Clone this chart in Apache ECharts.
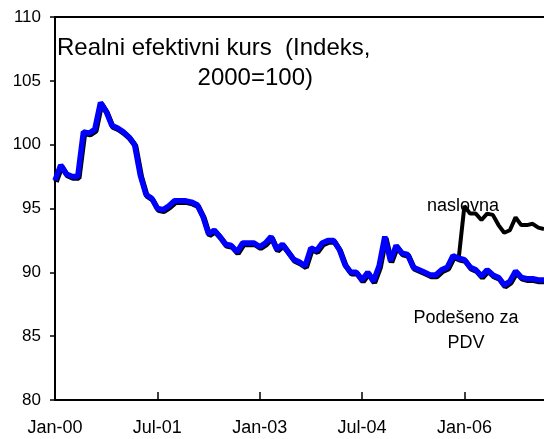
<!DOCTYPE html>
<html>
<head>
<meta charset="utf-8">
<script src="https://cdn.jsdelivr.net/npm/echarts@6/dist/echarts.min.js"></script>
<style>
  html, body { margin: 0; padding: 0; background: #fff; }
  #main { width: 544px; height: 439px; }
</style>
</head>
<body>
<div id="main"></div>
<script>
// mjeseci Jan-00 .. Mar-07
const monthNames = ['Jan', 'Feb', 'Mar', 'Apr', 'May', 'Jun', 'Jul', 'Aug', 'Sep', 'Oct', 'Nov', 'Dec'];
const months = [];
for (let i = 0; i < 87; i++) {
  let y = i / 12 | 0;
  months.push(monthNames[i % 12] + '-' + (y < 10 ? '0' + y : '' + y));
}

// Podešeno za PDV (plava)
const podeseno = [
  97.2, 98.4, 97.7, 97.5, 97.5, 101.0, 100.9, 101.2, 103.3, 102.6, 101.5, 101.3,
  101.0, 100.6, 100.0, 97.6, 96.1, 95.8, 95.0, 94.9, 95.2, 95.6, 95.6, 95.6,
  95.5, 95.3, 94.4, 93.0, 93.3, 92.8, 92.2, 92.1, 91.6, 92.3, 92.3, 92.3,
  92.0, 92.3, 92.8, 91.8, 92.2, 91.6, 91.0, 90.8, 90.5, 91.9, 91.7, 92.3,
  92.5, 92.5, 91.8, 90.6, 90.0, 90.0, 89.4, 90.0, 89.3, 90.5, 92.8, 90.9,
  92.1, 91.5, 91.4, 90.4, 90.2, 90.0, 89.8, 89.8, 90.2, 90.4, 91.3, 91.1,
  91.0, 90.4, 90.2, 89.7, 90.2, 89.8, 89.6, 89.0, 89.3, 90.1, 89.6, 89.5,
  89.5, 89.4, 89.4
];

// naslovna (crna), odvaja se od Dec-05
const naslovna = [
  null, null, null, null, null, null, null, null, null, null, null, null,
  null, null, null, null, null, null, null, null, null, null, null, null,
  null, null, null, null, null, null, null, null, null, null, null, null,
  null, null, null, null, null, null, null, null, null, null, null, null,
  null, null, null, null, null, null, null, null, null, null, null, null,
  null, null, null, null, null, null, null, null, null, null, null, 91.1,
  95.2, 94.6, 94.6, 94.1, 94.6, 94.5, 93.7, 93.1, 93.3, 94.3, 93.7, 93.7,
  93.8, 93.5, 93.4
];

const fontFam = '"Liberation Sans", Arial, sans-serif';

var chart = echarts.init(document.getElementById('main'));

var option = {
  animation: false,
  backgroundColor: '#fff',
  grid: {
    left: 55,
    right: 0,
    top: 17,
    bottom: 39
  },
  xAxis: [{
    type: 'category',
    data: months,
    boundaryGap: false,
    axisLine: { lineStyle: { color: '#000', width: 2 } },
    axisTick: { inside: true, length: 8, interval: 17, lineStyle: { color: '#000', width: 1.5 } },
    axisLabel: { interval: 17, margin: 19, color: '#000', fontSize: 18, fontFamily: fontFam },
    splitLine: { show: false }
  }, {
    type: 'category',
    data: months,
    position: 'top',
    boundaryGap: false,
    axisLine: { lineStyle: { color: '#000', width: 2 } },
    axisTick: { show: false },
    axisLabel: { show: false }
  }],
  yAxis: {
    type: 'value',
    min: 80,
    max: 110,
    interval: 5,
    axisLine: { show: true, lineStyle: { color: '#000', width: 2 } },
    axisTick: { show: true, length: 5, lineStyle: { color: '#000', width: 1.5 } },
    axisLabel: { margin: 14, color: '#000', fontSize: 17, fontFamily: fontFam },
    splitLine: { show: false }
  },
  series: [{
    name: 'naslovna',
    type: 'line',
    data: naslovna,
    symbol: 'none',
    z: 2,
    lineStyle: { color: '#000', width: 4 }
  }, {
    name: 'Podešeno za PDV',
    type: 'line',
    data: podeseno,
    symbol: 'none',
    z: 3,
    lineStyle: {
      color: '#0000ff',
      width: 5.5,
      shadowColor: '#000',
      shadowBlur: 0,
      shadowOffsetX: 1,
      shadowOffsetY: 1.5
    }
  }],
  graphic: [{
    type: 'text',
    x: 57,
    y: 48,
    style: { text: 'Realni efektivni kurs  (Indeks,', fill: '#000', font: '24px ' + fontFam, verticalAlign: 'middle' }
  }, {
    type: 'text',
    x: 313,
    y: 78,
    style: { text: '2000=100)', fill: '#000', font: '24px ' + fontFam, align: 'right', verticalAlign: 'middle' }
  }, {
    type: 'text',
    x: 463,
    y: 206,
    style: { text: 'naslovna', fill: '#000', font: '18px ' + fontFam, align: 'center', verticalAlign: 'middle' }
  }, {
    type: 'text',
    x: 466,
    y: 318,
    style: { text: 'Podešeno za', fill: '#000', font: '18px ' + fontFam, align: 'center', verticalAlign: 'middle' }
  }, {
    type: 'text',
    x: 466,
    y: 343,
    style: { text: 'PDV', fill: '#000', font: '18px ' + fontFam, align: 'center', verticalAlign: 'middle' }
  }]
};

chart.setOption(option);
</script>
</body>
</html>
